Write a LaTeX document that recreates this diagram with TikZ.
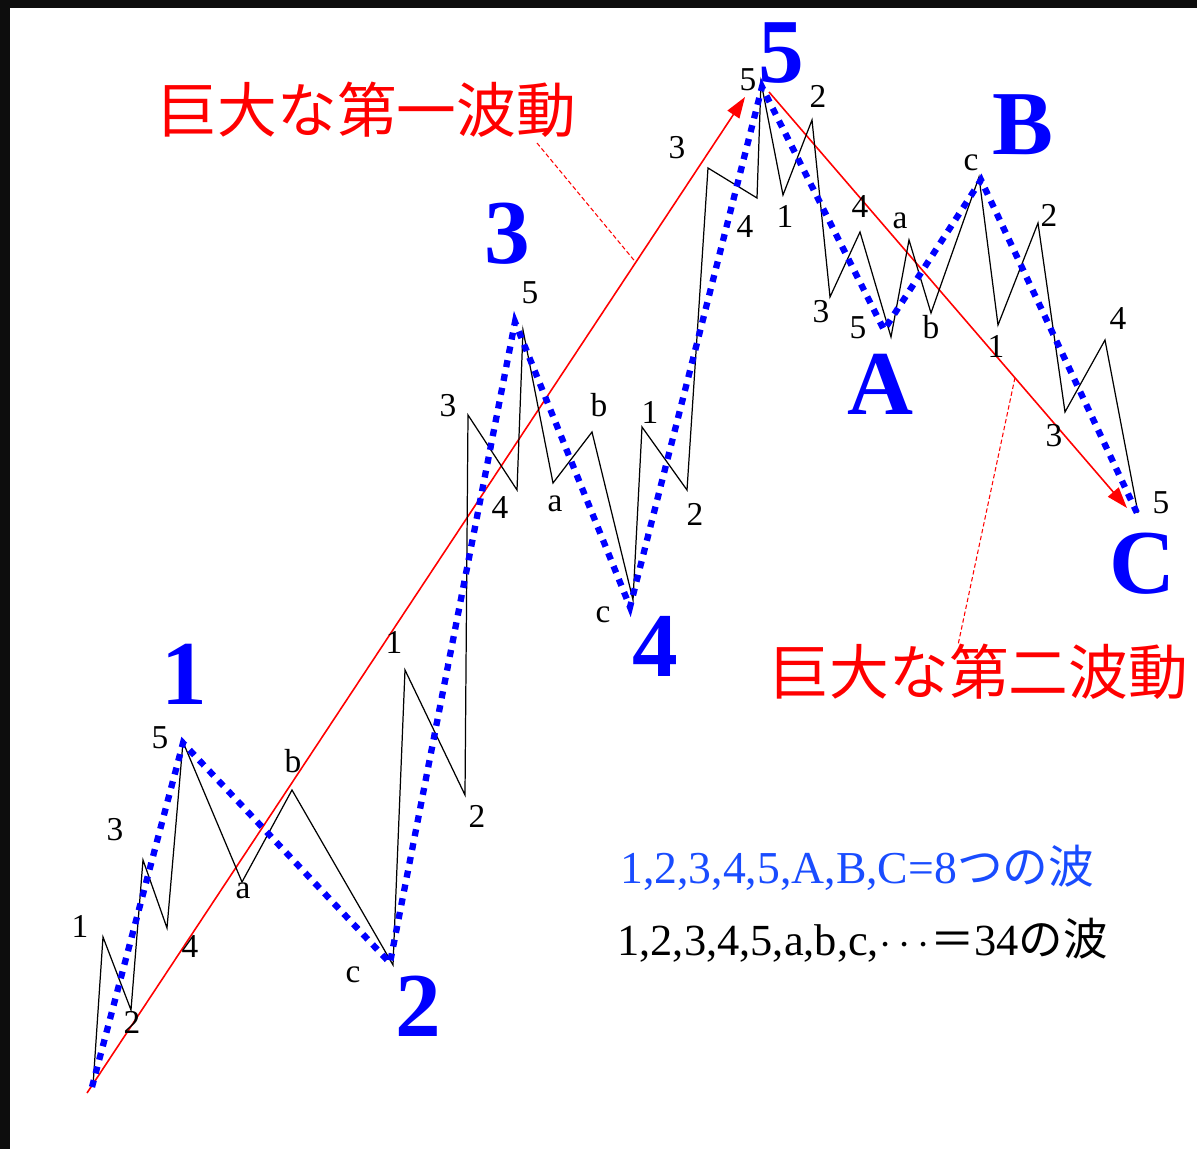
\documentclass[tikz,border=0pt]{standalone}
\usepackage{fontspec}
\setmainfont{Liberation Serif}
\newfontfamily\cjk{Noto Sans CJK JP}
\usetikzlibrary{arrows.meta,calc}
\definecolor{framegray}{rgb}{0.05,0.05,0.05}
\definecolor{waveblue}{rgb}{0,0,1}
\definecolor{legendblue}{rgb}{0.1,0.3,1}
\definecolor{trendred}{rgb}{1,0,0}
\tikzset{
  major/.style={
    line width=3.6pt,
    waveblue,
    dash pattern=on 4pt off 4pt
  },
  minor/.style={
    line width=0.7pt,
    black
  },
  trend/.style={
    -{Triangle[length=12pt,width=8pt]},
    line width=0.9pt,
    trendred
  },
  leader/.style={
    line width=0.6pt,
    trendred,
    dash pattern=on 2.5pt off 1.5pt
  },
  biglabel/.style={
    text=waveblue,
    inner sep=0pt,
    font=\fontsize{52}{52}\selectfont\bfseries
  },
  sublabel/.style={
    inner sep=0pt,
    font=\fontsize{19}{19}\selectfont
  },
  headline/.style={
    text=trendred,
    inner sep=0pt,
    font=\fontsize{34}{34}\selectfont\cjk
  },
  legendline/.style={
    anchor=west,
    inner sep=0pt,
    font=\fontsize{26}{26}\selectfont
  }
}

\begin{document}
\begin{tikzpicture}[x=0.02cm,y=-0.02cm]
\useasboundingbox (0,0) rectangle (1197,1149);
\fill[framegray] (0,0) rectangle (1197,8);
\fill[framegray] (0,0) rectangle (10,1149);

% big trend arrows
\coordinate (t0) at (87,1093);
\coordinate (t1) at (745,97);
\coordinate (t2) at (769,92);
\coordinate (t3) at (1127,508);
\draw[trend] (t0) -- (t1);
\draw[trend] (t2) -- (t3);

% sub waves
\foreach \n/\x/\y in {w1-0/93/1086, w1-1/103/937, w1-2/131/1010, w1-3/143/860,
  w1-4/167/928, w1-5/183/742, w2-a/242/882, w2-b/292/790, w2-c/393/965,
  w3-1/405/670, w3-2/465/795, w3-3/468/415, w3-4/517/490, w3-5/523/330,
  w4-a/553/483, w4-b/592/432, w4-c/633/600,
  w5-1/642/427, w5-2/687/490, w5-3/708/168, w5-4/757/198, w5-5/761/82,
  wA-1/783/195, wA-2/812/120, wA-3/830/297, wA-4/860/232, wA-5/891/337,
  wB-a/909/240, wB-b/931/313, wB-c/979/177,
  wC-1/998/325, wC-2/1038/223, wC-3/1065/412, wC-4/1105/340, wC-5/1138/513}
  \coordinate (\n) at (\x,\y);
\draw[minor] (w1-0) -- (w1-1) -- (w1-2) -- (w1-3) -- (w1-4) -- (w1-5)
  -- (w2-a) -- (w2-b) -- (w2-c)
  -- (w3-1) -- (w3-2) -- (w3-3) -- (w3-4) -- (w3-5)
  -- (w4-a) -- (w4-b) -- (w4-c)
  -- (w5-1) -- (w5-2) -- (w5-3) -- (w5-4) -- (w5-5)
  -- (wA-1) -- (wA-2) -- (wA-3) -- (wA-4) -- (wA-5)
  -- (wB-a) -- (wB-b) -- (wB-c)
  -- (wC-1) -- (wC-2) -- (wC-3) -- (wC-4) -- (wC-5);

% main waves
\foreach \n/\x/\y in {m0/92/1087, m1/183/743, m2/390/963, m3/515/322, m4/630/607,
  m5/762/87, mA/884/330, mB/981/180, mC/1137/513}
  \coordinate (\n) at (\x,\y);
\draw[major] (m0) -- (m1) -- (m2) -- (m3) -- (m4) -- (m5) -- (mA) -- (mB) -- (mC);

% labels of the sub waves
\foreach \n/\x/\y/\t in {1-1/80/926/1, 1-2/132/1022/2, 1-3/115/830/3, 1-4/190/947/4, 1-5/160/738/5,
  2-a/243/891/a, 2-b/293/761/b, 2-c/353/975/c,
  3-1/394/642/1, 3-2/477/816/2, 3-3/448/406/3, 3-4/500/508/4, 3-5/530/293/5,
  4-a/555/504/a, 4-b/599/405/b, 4-c/603/615/c,
  5-1/650/412/1, 5-2/695/514/2, 5-3/677/148/3, 5-4/745/227/4, 5-5/748/80/5,
  A-1/785/216/1, A-2/818/96/2, A-3/821/312/3, A-4/860/207/4, A-5/858/328/5,
  B-a/900/221/a, B-b/931/327/b, B-c/971/163/c,
  C-1/996/346/1, C-2/1049/215/2, C-3/1054/436/3, C-4/1118/319/4, C-5/1161/503/5}
  \node[sublabel] (l\n) at (\x,\y) {\t};

% labels of the main waves
\node[biglabel] (big1) at (184,674) {1};
\node[biglabel] (big2) at (418,1006) {2};
\node[biglabel] (big3) at (507,234) {3};
\node[biglabel] (big4) at (655,646) {4};
\node[biglabel] (big5) at (781,53) {5};
\node[biglabel] (bigA) at (880,384) {A};
\node[biglabel] (bigB) at (1023,125) {B};
\node[biglabel] (bigC) at (1142,564) {C};

% headlines and their leaders
\node[headline] (first) at (367,110) {巨大な第一波動};
\node[headline] (second) at (979,672) {巨大な第二波動};
\coordinate (k1) at (537,143);
\coordinate (k1e) at ($(t0)!0.834!(t1)$);
\coordinate (k2) at (958,645);
\coordinate (k2e) at ($(t2)!0.687!(t3)$);
\draw[leader] (k1) -- (k1e);
\draw[leader] (k2e) -- (k2);

% legend
\node[legendline,text=legendblue] (sum8) at (620,868) {1,2,3,4,5,A,B,C=8{\cjk つの波}};
\node[legendline,font=\fontsize{25.3}{25.3}\selectfont] (sum34) at (617,940) {1,2,3,4,5,a,b,c,$\cdots${\cjk ＝}34{\cjk の波}};
\end{tikzpicture}
\end{document}
